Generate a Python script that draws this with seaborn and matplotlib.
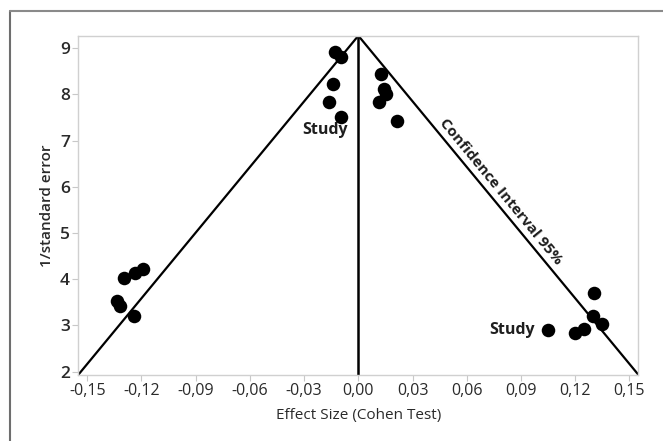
import matplotlib
matplotlib.use("Agg")
import matplotlib.pyplot as plt
from matplotlib.lines import Line2D
import seaborn as sns
import pandas as pd

# ---- data ----
effect_size = [-0.0128, -0.0095, -0.0143, -0.0162, -0.0095,
               0.0124, 0.0143, 0.0155, 0.0115, 0.0213,
               -0.1294, -0.1235, -0.1192, -0.1336, -0.1321, -0.1244,
               0.1052, 0.1199, 0.1251, 0.1304, 0.1301, 0.1350]
inv_se = [8.91, 8.82, 8.22, 7.83, 7.52,
          8.44, 8.12, 8.01, 7.84, 7.43,
          4.02, 4.13, 4.22, 3.53, 3.42, 3.21,
          2.90, 2.83, 2.92, 3.71, 3.21, 3.03]
funnel_x = [-0.155, 0.0, 0.155]
funnel_y = [1.93, 9.27, 1.93]
x_ticks = [-0.15, -0.12, -0.09, -0.06, -0.03, 0.0, 0.03, 0.06, 0.09, 0.12, 0.15]
x_tick_labels = ["-0,15", "-0,12", "-0,09", "-0,06", "-0,03", "0,00",
                 "0,03", "0,06", "0,09", "0,12", "0,15"]
y_ticks = [2, 3, 4, 5, 6, 7, 8, 9]

df = pd.DataFrame({"effect": effect_size, "inv_se": inv_se})
funnel = pd.DataFrame({"x": funnel_x, "y": funnel_y})

sns.set_theme(style="white")
plt.rcParams["font.family"] = ["Open Sans", "DejaVu Sans"]

fig = plt.figure(figsize=(6.63, 4.41), dpi=100)
ax = fig.add_axes([0.118, 0.150, 0.845, 0.769])

sns.lineplot(data=funnel, x="x", y="y", sort=False, color="black",
             linewidth=1.6, ax=ax, estimator=None)
ax.axvline(0, color="black", linewidth=1.8)
sns.scatterplot(data=df, x="effect", y="inv_se", s=95, color="black",
                edgecolor="black", linewidth=0, ax=ax, zorder=5)

ax.set_xlim(-0.155, 0.155)
ax.set_ylim(1.93, 9.27)
ax.set_xticks(x_ticks)
ax.set_xticklabels(x_tick_labels)
ax.set_yticks(y_ticks)
ax.set_yticklabels([str(v) for v in y_ticks])

ax.tick_params(axis="both", which="both", length=4, width=0.8,
               color="#c8c8c8", labelcolor="#2a2a2a", pad=2,
               bottom=True, left=True)
ax.tick_params(axis="x", labelsize=11.5)
ax.tick_params(axis="y", labelsize=12.5)
for t in ax.get_yticklabels():
    t.set_fontweight("semibold")
for s in ax.spines.values():
    s.set_color("#d0d0d0")
    s.set_linewidth(1.0)

ax.set_xlabel("Effect Size (Cohen Test)", fontsize=11, color="#2a2a2a", labelpad=6)
ax.set_ylabel("1/standard error", fontsize=11, color="#2a2a2a",
              fontweight="semibold", labelpad=4)

ax.text(-0.0184, 7.23, "Study", fontsize=11.5, fontweight="bold",
        color="#1e1e1e", ha="center", va="center")
ax.text(0.085, 2.90, "Study", fontsize=11.5, fontweight="bold",
        color="#1e1e1e", ha="center", va="center")
ax.text(0.079, 5.89, "Confidence Interval 95%", fontsize=11,
        fontweight="bold", color="#1e1e1e", ha="center", va="center",
        rotation=-50.5, rotation_mode="anchor")

# outer border
fig.add_artist(Line2D([10 / 663, 10 / 663], [0, 1 - 11 / 441],
                      transform=fig.transFigure, color="#6e6e6e", linewidth=1.5))
fig.add_artist(Line2D([10 / 663, 1], [1 - 11 / 441, 1 - 11 / 441],
                      transform=fig.transFigure, color="#8a8a8a", linewidth=1.5))

fig.savefig("out.png", dpi=100)
